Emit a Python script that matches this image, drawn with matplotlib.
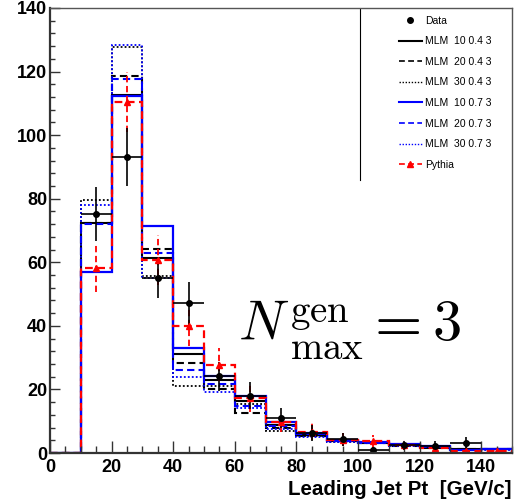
import numpy as np
import matplotlib

matplotlib.use("Agg")
import matplotlib.pyplot as plt
from matplotlib.lines import Line2D
from matplotlib.ticker import MultipleLocator

plt.rcParams["font.family"] = ["Liberation Sans", "DejaVu Sans"]
plt.rcParams["mathtext.fontset"] = "cm"

# бины по Pt ведущей струи, ГэВ/c
edges = np.arange(0, 151, 10)
centers = edges[:-1] + 5

data = [0, 75.2, 93.1, 55.2, 47.1, 24.1, 18.0, 11.0, 6.3, 4.3, 1.0, 2.4, 2.2, 3.2, 0]
data_err = [0, 8.5, 9.0, 6.5, 6.7, 4.5, 4.2, 3.2, 2.4, 2.0, 1.0, 1.5, 1.5, 1.8, 0]

mlm_10_04 = [0, 72.5, 112.7, 61.3, 31.2, 23.0, 16.4, 8.7, 5.8, 3.7, 3.1, 2.4, 1.8, 1.4, 1.4]
mlm_20_04 = [0, 72.3, 118.6, 64.2, 28.4, 20.2, 12.5, 8.0, 5.5, 3.7, 3.1, 2.2, 1.7, 1.2, 1.2]
mlm_30_04 = [0, 79.6, 127.6, 55.7, 21.0, 21.0, 15.5, 7.0, 5.2, 3.4, 3.0, 2.2, 1.6, 1.2, 1.2]
mlm_10_07 = [0, 56.8, 112.2, 71.3, 32.9, 24.1, 17.8, 9.6, 6.4, 4.0, 3.5, 2.7, 2.3, 1.1, 1.3]
mlm_20_07 = [0, 72.0, 117.8, 62.8, 26.2, 21.8, 14.9, 8.5, 6.0, 3.8, 3.3, 2.5, 2.0, 1.1, 1.2]
mlm_30_07 = [0, 78.0, 128.4, 55.2, 23.9, 19.3, 14.3, 7.4, 5.0, 3.5, 3.0, 2.3, 1.9, 1.0, 1.1]

pythia = [0, 58.2, 110.4, 60.7, 40.1, 27.8, 17.2, 9.8, 6.7, 4.2, 3.7, 2.5, 1.6, 0.5, 0.5]
pythia_err = [0, 7.6, 9.5, 7.8, 6.4, 5.2, 4.2, 3.1, 2.6, 2.0, 1.9, 1.6, 1.3, 0.7, 0.7]

DOT = (0, (1, 1.2))
DASH = (0, (3.5, 2))
W, H = 515, 503

fig = plt.figure(figsize=(W / 100, H / 100), dpi=100)
ax = fig.add_axes([50 / W, 1 - 453 / H, 462 / W, 445 / H])

ax.stairs(mlm_10_04, edges, color="black", lw=1.5, ls="-")
ax.stairs(mlm_20_04, edges, color="black", lw=1.5, ls=DASH)
ax.stairs(mlm_30_04, edges, color="black", lw=1.3, ls=DOT)
ax.stairs(mlm_10_07, edges, color="#0000ff", lw=1.6, ls="-")
ax.stairs(mlm_20_07, edges, color="#0000ff", lw=1.5, ls=DASH)
ax.stairs(mlm_30_07, edges, color="#0000ff", lw=1.3, ls=DOT)
ax.stairs(pythia, edges, color="#ff0000", lw=1.6, ls=DASH)

p = np.array(pythia)
pe = np.array(pythia_err)
mp = p > 0
eb = ax.errorbar(centers[mp], p[mp], yerr=pe[mp], fmt="^", color="#ff0000",
                 ms=5, lw=1.3, capsize=0)
eb[2][0].set_linestyle(DASH)

d = np.array(data)
de = np.array(data_err)
md = d > 0
ax.errorbar(centers[md], d[md], xerr=5, yerr=de[md], fmt="o", color="black",
            ms=4, lw=1.2, capsize=0)

ax.set_xlim(0, 150)
ax.set_ylim(0, 140)
ax.xaxis.set_major_locator(MultipleLocator(20))
ax.xaxis.set_minor_locator(MultipleLocator(5))
ax.yaxis.set_major_locator(MultipleLocator(20))
ax.yaxis.set_minor_locator(MultipleLocator(4))
ax.tick_params(which="both", direction="in", color="#333333", width=1,
               labelsize=13, top=False, right=False)
ax.tick_params(axis="x", which="major", length=9, pad=4)
ax.tick_params(axis="x", which="minor", length=5)
ax.tick_params(axis="y", which="major", length=7, pad=2)
ax.tick_params(axis="y", which="minor", length=3.6)
for lab in ax.get_xticklabels() + ax.get_yticklabels():
    lab.set_fontweight("bold")
for side in ("left", "bottom"):
    ax.spines[side].set_color("#333333")
    ax.spines[side].set_linewidth(1.6)
for side in ("top", "right"):
    ax.spines[side].set_color("#555555")
    ax.spines[side].set_linewidth(1.0)

ax.set_xlabel("Leading Jet Pt  [GeV/c]", fontsize=14.8, fontweight="bold",
              loc="right", labelpad=3)

# надпись N^gen_max = 3 собрана из кусков, чтобы подогнать отступы
def put(x, y, s, size, va="baseline", **kw):
    fig.text(x / W, 1 - y / H, s, fontsize=size, ha="left", va=va, **kw)

put(238, 340, r"$N$", 40)
put(290, 296, "$\\mathrm{gen}$\n$\\mathrm{max}$", 28, va="top", linespacing=0.95)
put(364, 340, r"$=$", 44)
put(432, 340, r"$3$", 42)

handles = [
    Line2D([], [], ls="none", marker="o", color="black", ms=4),
    Line2D([], [], color="black", lw=1.5, ls="-"),
    Line2D([], [], color="black", lw=1.2, ls=DASH),
    Line2D([], [], color="black", lw=1.0, ls=DOT),
    Line2D([], [], color="#0000ff", lw=1.5, ls="-"),
    Line2D([], [], color="#0000ff", lw=1.2, ls=DASH),
    Line2D([], [], color="#0000ff", lw=1.0, ls=DOT),
    Line2D([], [], color="#ff0000", lw=1.2, ls=DASH, marker="^", ms=4),
]
labels = ["Data", "MLM  10 0.4 3", "MLM  20 0.4 3", "MLM  30 0.4 3",
          "MLM  10 0.7 3", "MLM  20 0.7 3", "MLM  30 0.7 3", "Pythia"]
ax.legend(handles, labels, loc="upper left", bbox_to_anchor=(0.755, 0.983),
          frameon=False, fontsize=7.5, handlelength=2.2, handletextpad=0.35,
          labelspacing=1.02, borderpad=0, borderaxespad=0)
ax.add_line(Line2D([(360 - 50) / 462] * 2, [1, (453 - 180) / 445],
                   transform=ax.transAxes, color="black", lw=0.8))

fig.savefig("out.png", dpi=100)
